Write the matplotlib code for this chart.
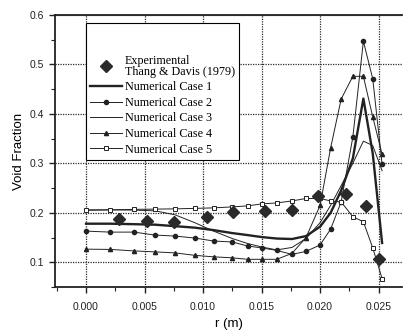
import matplotlib
matplotlib.use("Agg")
import matplotlib.pyplot as plt
from matplotlib.ticker import MultipleLocator, FormatStrFormatter

# ---- data ----
r_num = [0.0, 0.00205, 0.0041, 0.0059, 0.0076, 0.0093, 0.0109, 0.0125, 0.0138, 0.0150,
         0.0163, 0.0176, 0.0188, 0.0200, 0.0209, 0.0218, 0.0228, 0.0237, 0.0245, 0.0253]
case1 = [0.178, 0.178, 0.177, 0.176, 0.173, 0.170, 0.165, 0.159, 0.155, 0.151,
         0.148, 0.147, 0.153, 0.172, 0.200, 0.245, 0.310, 0.431, 0.320, 0.139]
case2 = [0.163, 0.161, 0.161, 0.155, 0.153, 0.149, 0.143, 0.141, 0.133, 0.129,
         0.124, 0.116, 0.122, 0.135, 0.167, 0.222, 0.353, 0.547, 0.471, 0.298]
case3 = [0.206, 0.206, 0.2055, 0.204, 0.196, 0.180, 0.163, 0.148, 0.138, 0.131,
         0.125, 0.130, 0.148, 0.180, 0.215, 0.255, 0.300, 0.345, 0.336, 0.285]
case4 = [0.1265, 0.126, 0.123, 0.121, 0.119, 0.114, 0.111, 0.109, 0.106, 0.106,
         0.106, 0.118, 0.150, 0.215, 0.331, 0.430, 0.476, 0.476, 0.394, 0.318]
case5 = [0.205, 0.206, 0.207, 0.2075, 0.208, 0.209, 0.210, 0.212, 0.214, 0.218,
         0.220, 0.224, 0.229, 0.229, 0.224, 0.222, 0.192, 0.182, 0.129, 0.067]
exp_r = [0.0028, 0.0052, 0.0075, 0.0103, 0.0126, 0.0153, 0.0176, 0.0198, 0.0222, 0.0239, 0.0250]
exp_v = [0.188, 0.184, 0.182, 0.192, 0.202, 0.204, 0.206, 0.233, 0.239, 0.214, 0.106]

labels = ["Experimental\nThang & Davis (1979)", "Numerical Case 1", "Numerical Case 2",
          "Numerical Case 3", "Numerical Case 4", "Numerical Case 5"]

W, H = 403, 331
fig = plt.figure(figsize=(W / 100, H / 100), dpi=100)
L, R, T, B = 55, 402, 15, 287
ax = fig.add_axes([L / W, 1 - B / H, (R - L) / W, (B - T) / H])
ax.set_xlim(-0.00265, 0.0270)
ax.set_ylim(0.05, 0.6)

k = "#222222"
h0, = ax.plot(exp_r, exp_v, linestyle="none", marker="D", markersize=6.5,
              color="#2a2a2a", zorder=6)
h1, = ax.plot(r_num, case1, color=k, lw=1.7, zorder=5)
h2, = ax.plot(r_num, case2, color=k, lw=0.7, marker="o", markersize=3, zorder=4)
h3, = ax.plot(r_num, case3, color=k, lw=0.7, zorder=4)
h4, = ax.plot(r_num, case4, color=k, lw=0.7, marker="^", markersize=3, zorder=4)
h5, = ax.plot(r_num, case5, color=k, lw=0.7, marker="s", markersize=3,
              markerfacecolor="white", markeredgewidth=0.7, zorder=4)

ax.xaxis.set_major_locator(MultipleLocator(0.005))
ax.xaxis.set_minor_locator(MultipleLocator(0.0025))
ax.yaxis.set_major_locator(MultipleLocator(0.1))
ax.yaxis.set_minor_locator(MultipleLocator(0.05))
ax.xaxis.set_major_formatter(FormatStrFormatter("%.3f"))
ax.yaxis.set_major_formatter(FormatStrFormatter("%.1f"))

ax.grid(True, which="major", linestyle=(0, (1, 1)), color="#2a2a2a", linewidth=0.9)
ax.set_axisbelow(True)

for s in ["left", "bottom", "top"]:
    ax.spines[s].set_linewidth(1.3)
    ax.spines[s].set_color(k)
ax.spines["right"].set_visible(False)

ax.tick_params(which="major", direction="out", length=4, width=1, labelsize=7.5,
               colors=k)
ax.tick_params(axis="x", which="major", pad=7)
ax.tick_params(axis="y", which="major", pad=4)
ax.tick_params(which="minor", direction="out", length=3, width=0.8, colors=k)
for t in ax.get_xticklabels() + ax.get_yticklabels():
    t.set_family("Liberation Sans")

ax.set_xlabel("r (m)", family="Liberation Sans", fontsize=9.5, labelpad=4)
ax.set_ylabel("Void Fraction", family="Liberation Sans", fontsize=9.5, labelpad=3)

leg = ax.legend([h0, h1, h2, h3, h4, h5], labels, loc="upper left",
                bbox_to_anchor=((86 - L) / (R - L), (B - 23) / (B - T)),
                borderaxespad=0, fancybox=False, framealpha=1, edgecolor="black",
                prop={"family": "Liberation Serif", "size": 8.7},
                title=" ", title_fontsize=17,
                handlelength=2.6, handletextpad=0.25, labelspacing=0.3,
                borderpad=0.35, numpoints=1)
leg.get_frame().set_linewidth(0.8)
leg.get_texts()[0].set_linespacing(0.85)

fig.savefig("out.png", dpi=100)
